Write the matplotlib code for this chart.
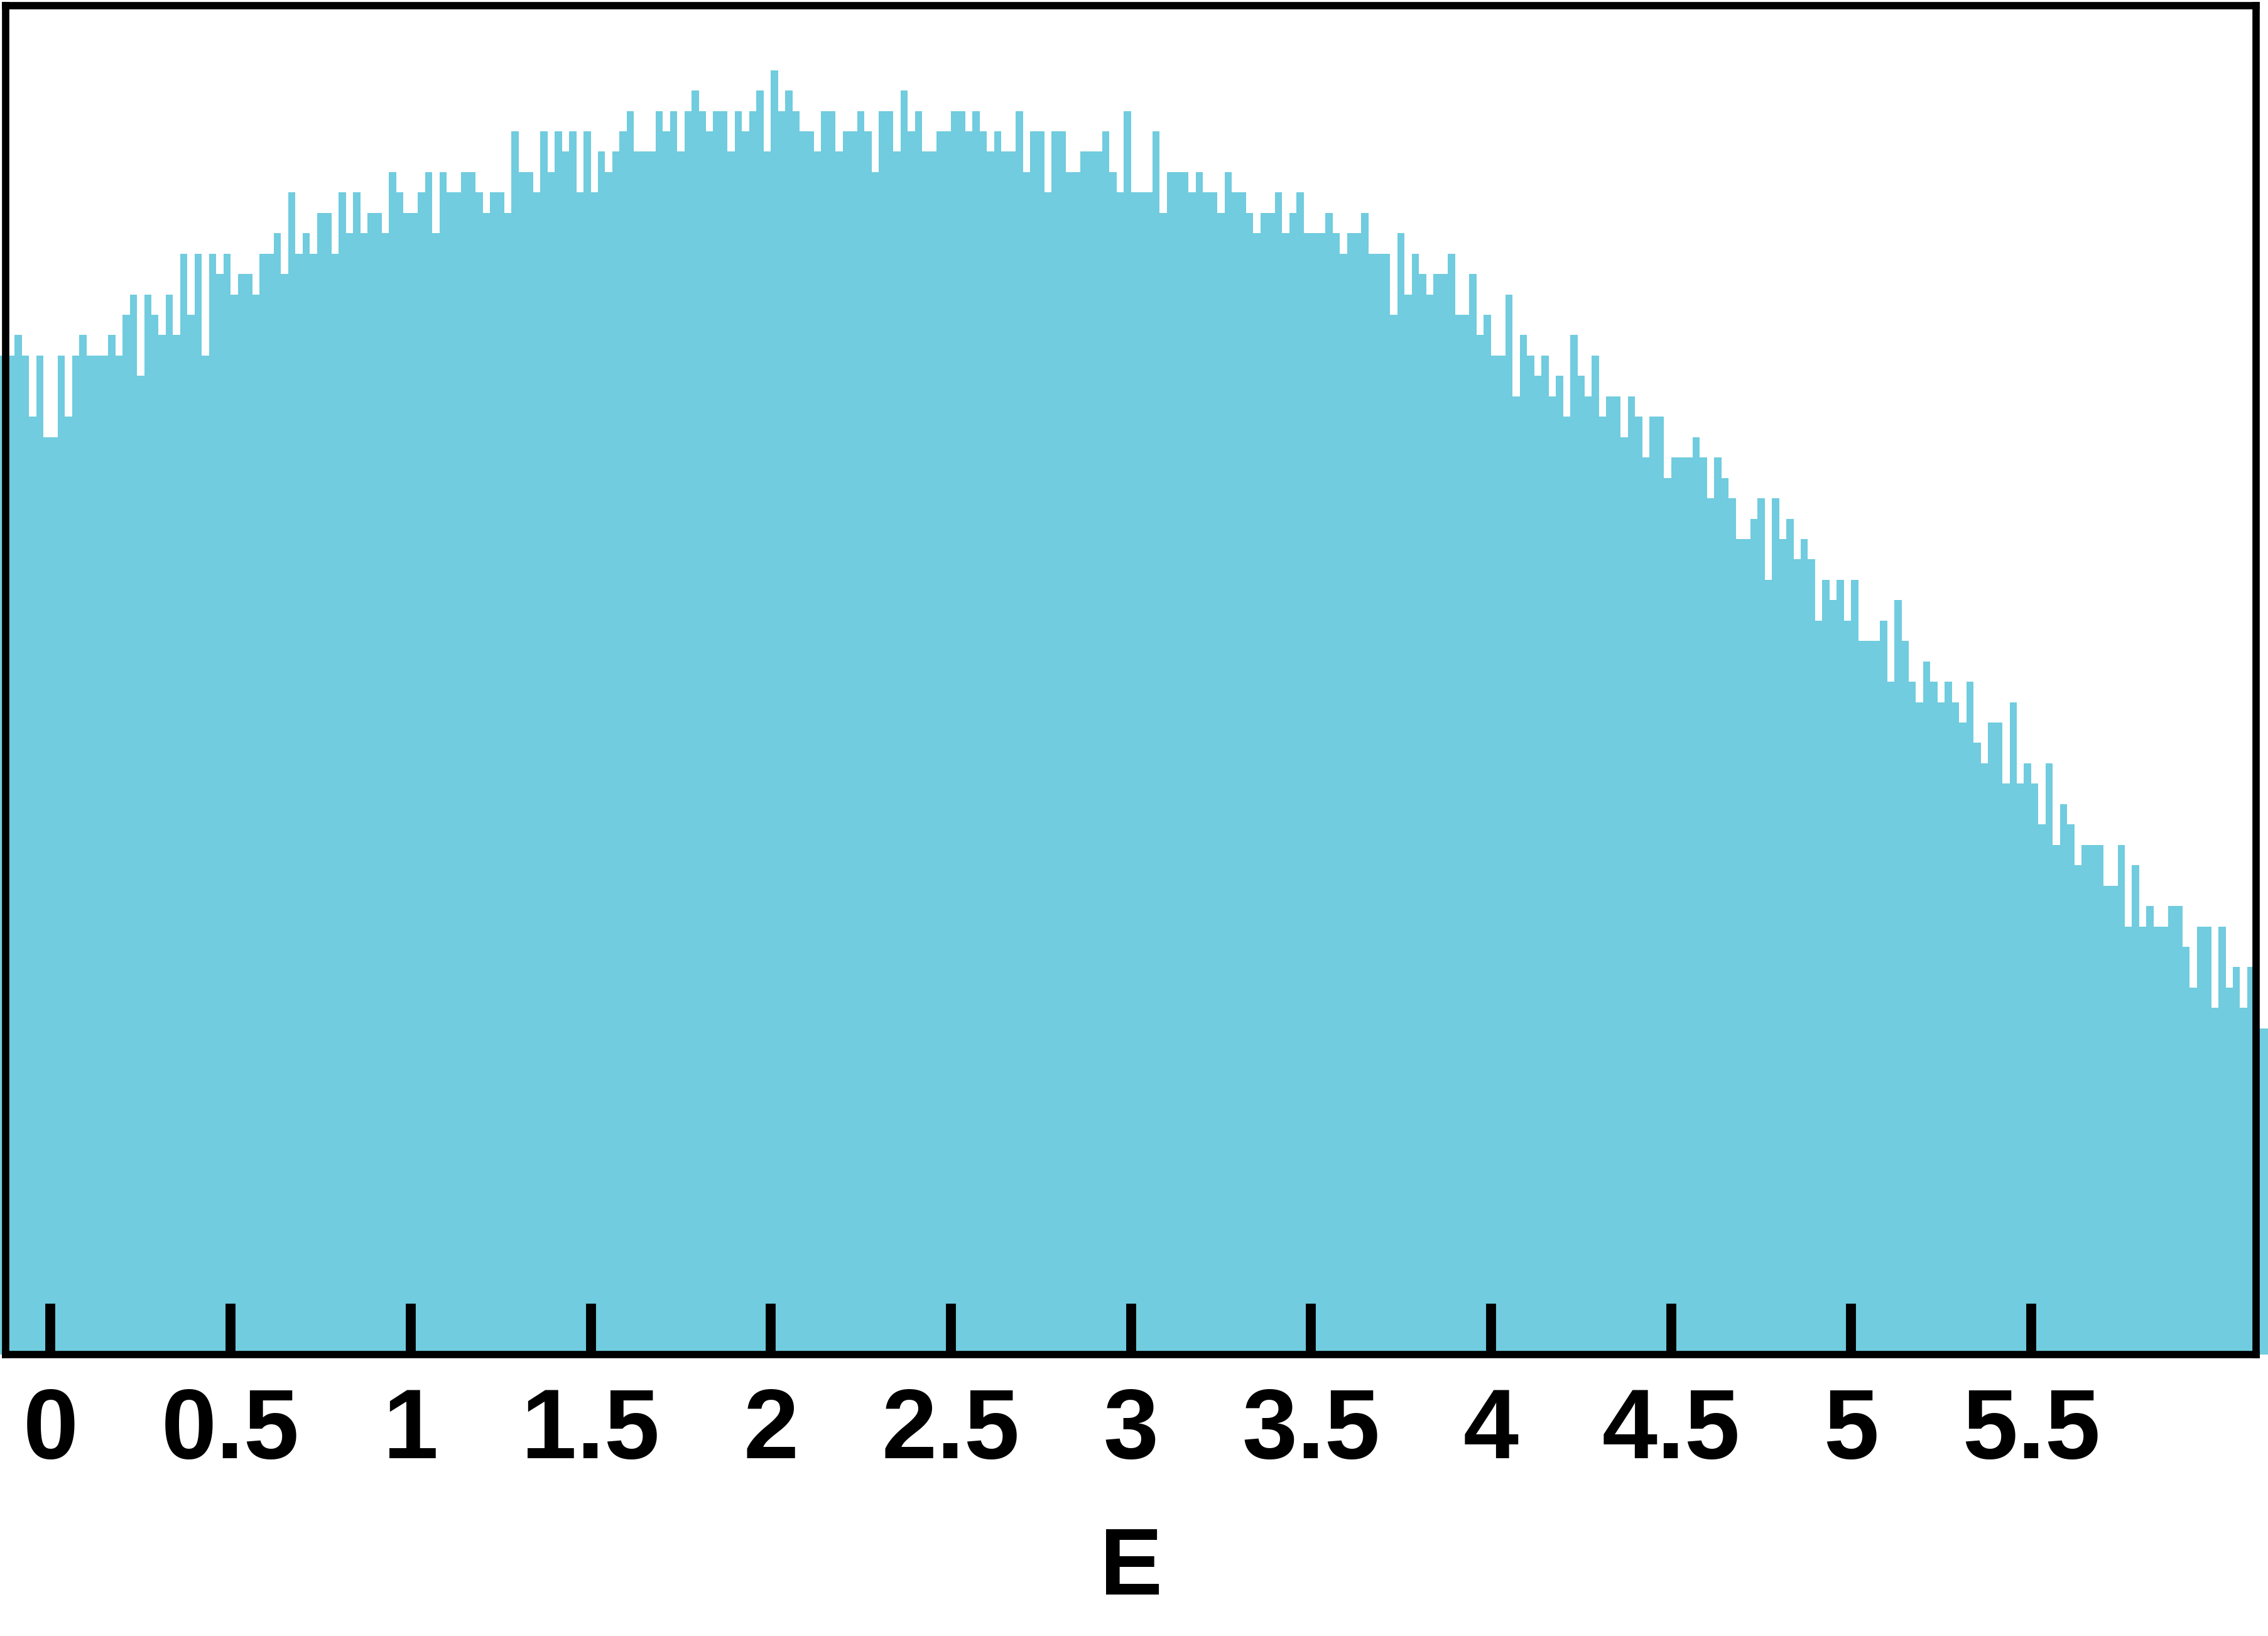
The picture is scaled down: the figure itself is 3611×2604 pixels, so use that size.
import numpy as np
import matplotlib
matplotlib.use("Agg")
import matplotlib.pyplot as plt

# ---- datos del histograma (cuentas por bin, ancho 0.02, primer bin en -0.14) ----
bin_start = -0.14
bin_width = 0.02
counts = [
    49, 49, 50, 49, 46, 49, 45, 45, 49, 46, 49, 50, 49, 49, 49, 50, 49, 51, 52, 48,
    52, 51, 50, 52, 50, 54, 51, 54, 49, 54, 53, 54, 52, 53, 53, 52, 54, 54, 55, 53,
    57, 54, 55, 54, 56, 56, 54, 57, 55, 57, 55, 56, 56, 55, 58, 57, 56, 56, 57, 58,
    55, 58, 57, 57, 58, 58, 57, 56, 57, 57, 56, 60, 58, 58, 57, 60, 58, 60, 59, 60,
    57, 60, 57, 59, 58, 59, 60, 61, 59, 59, 59, 61, 60, 61, 59, 61, 62, 61, 60, 61,
    61, 59, 61, 60, 61, 62, 59, 63, 61, 62, 61, 60, 60, 59, 61, 61, 59, 60, 60, 61,
    60, 58, 61, 61, 59, 62, 60, 61, 59, 59, 60, 60, 61, 61, 60, 61, 60, 59, 60, 59,
    59, 61, 58, 60, 60, 57, 60, 60, 58, 58, 59, 59, 59, 60, 58, 57, 61, 57, 57, 57,
    60, 56, 58, 58, 58, 57, 58, 57, 57, 56, 58, 57, 57, 56, 55, 56, 56, 57, 55, 56,
    57, 55, 55, 55, 56, 55, 54, 55, 55, 56, 54, 54, 54, 51, 55, 52, 54, 53, 52, 53,
    53, 54, 51, 51, 53, 50, 51, 49, 49, 52, 47, 50, 49, 48, 49, 47, 48, 46, 50, 48,
    47, 49, 46, 47, 47, 45, 47, 46, 44, 46, 46, 43, 44, 44, 44, 45, 44, 42, 44, 43,
    42, 40, 40, 41, 42, 38, 42, 40, 41, 39, 40, 39, 36, 38, 37, 38, 36, 38, 35, 35,
    35, 36, 33, 37, 35, 33, 32, 34, 33, 32, 33, 32, 31, 33, 30, 29, 31, 31, 28, 32,
    28, 29, 28, 26, 29, 25, 27, 26, 24, 25, 25, 25, 23, 23, 25, 21, 24, 21, 22, 21,
    21, 22, 22, 20, 18, 21, 21, 17, 21, 18, 19, 17, 19, 16, 16,
]
tick_values = [0, 0.5, 1, 1.5, 2, 2.5, 3, 3.5, 4, 4.5, 5, 5.5]
tick_labels = ["0", "0.5", "1", "1.5", "2", "2.5", "3", "3.5", "4", "4.5", "5", "5.5"]
x_label = "E"

bar_color = "#70CCDE"


def dibujar():
    edges = bin_start + bin_width * np.arange(len(counts) + 1)

    fig = plt.figure(figsize=(12.04, 8.6833), dpi=300)
    ax = fig.add_axes([0.00244, 0.17198, 0.9921, 0.82403])

    # histograma relleno, sin recortar (sale un poco fuera de los ejes)
    ax.stairs(counts, edges, fill=True, color=bar_color, linewidth=0,
              baseline=0, clip_on=False, zorder=1)

    ax.set_xlim(-0.125, 6.125)
    ax.set_ylim(0, 66.15)

    for s in ax.spines.values():
        s.set_linewidth(2.8)
        s.set_color("black")
        s.set_zorder(3)

    ax.set_yticks([])
    ax.set_xticks(tick_values)
    ax.set_xticklabels(tick_labels, fontfamily="Liberation Sans",
                       fontweight="bold", fontsize=38)
    ax.tick_params(axis="x", direction="in", length=19.5, width=3.8,
                   pad=12, top=False, colors="black")
    ax.set_xlabel(x_label, fontfamily="Liberation Sans", fontweight="bold",
                  fontsize=36, labelpad=18)

    fig.savefig("out.png", dpi=300)


if __name__ == '__main__':
    dibujar()
